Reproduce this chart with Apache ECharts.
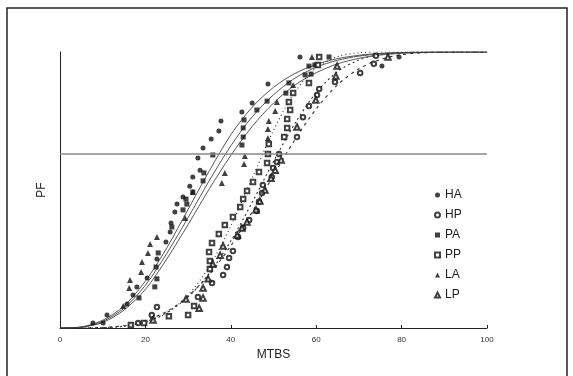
<!DOCTYPE html>
<html>
<head>
<meta charset="utf-8">
<script src="https://cdn.jsdelivr.net/npm/echarts@6/dist/echarts.min.js"></script>
<style>
  html, body { margin: 0; padding: 0; background: #fff; }
  #chart { width: 573px; height: 376px; }
</style>
</head>
<body>
<div id="chart"></div>
<script>
// x positions where the fitted curves were read
const curveX = [0, 5, 10, 15, 20, 25, 30, 35, 40, 45, 50, 55, 60, 65, 70, 75, 80, 85, 90, 95, 100];

// fitted curves
const haFit = [0, 0.004, 0.028, 0.08, 0.17, 0.29, 0.43, 0.57, 0.7, 0.8, 0.872, 0.922, 0.955, 0.976, 0.988, 0.995, 0.998, 1, 1, 1, 1];
const paFit = [0, 0.003, 0.024, 0.072, 0.155, 0.27, 0.4, 0.535, 0.66, 0.765, 0.845, 0.905, 0.945, 0.97, 0.985, 0.993, 0.997, 0.999, 1, 1, 1];
const laFit = [0, 0.003, 0.02, 0.065, 0.14, 0.25, 0.375, 0.505, 0.625, 0.73, 0.815, 0.88, 0.925, 0.957, 0.977, 0.989, 0.995, 0.998, 1, 1, 1];
const ppFit = [0, 0, 0.001, 0.006, 0.02, 0.054, 0.119, 0.224, 0.37, 0.543, 0.716, 0.855, 0.943, 0.983, 0.997, 1, 1, 1, 1, 1, 1];
const lpFit = [0, 0, 0.001, 0.007, 0.023, 0.056, 0.113, 0.199, 0.315, 0.455, 0.603, 0.741, 0.853, 0.929, 0.971, 0.991, 0.998, 1, 1, 1, 1];
const hpFit = [0, 0, 0.002, 0.009, 0.027, 0.06, 0.115, 0.194, 0.298, 0.42, 0.553, 0.682, 0.794, 0.881, 0.939, 0.973, 0.99, 0.997, 0.999, 1, 1];

// observed points [MTBS, PF]
const haPts = [[7.7,0.018],[10.1,0.018],[11.0,0.047],[15.7,0.087],[17.1,0.12],[18.0,0.149],[20.4,0.181],[22.7,0.25],[24.8,0.312],[25.8,0.348],[26.0,0.38],[26.9,0.42],[27.4,0.449],[28.8,0.475],[30.4,0.514],[31.1,0.547],[32.8,0.572],[32.3,0.616],[33.5,0.652],[35.4,0.685],[37.2,0.714],[37.7,0.75],[42.6,0.783],[45.0,0.815],[48.7,0.884],[56.2,0.982],[75.4,0.949],[79.4,0.982]];
const hpPts = [[18.3,0.018],[21.5,0.047],[22.7,0.076],[32.3,0.112],[35.6,0.163],[38.2,0.192],[39.1,0.221],[39.6,0.254],[40.5,0.279],[41.7,0.33],[42.9,0.362],[44.3,0.391],[46.1,0.424],[46.6,0.457],[47.3,0.489],[47.5,0.518],[49.6,0.547],[49.9,0.58],[50.8,0.601],[51.3,0.63],[55.5,0.692],[56.9,0.764],[58.3,0.804],[60.2,0.844],[60.7,0.866],[64.4,0.891],[70.3,0.924],[73.5,0.957],[74.0,0.986]];
const paPts = [[18.5,0.109],[22.2,0.149],[22.7,0.178],[22.5,0.221],[23.0,0.272],[26.2,0.366],[28.8,0.428],[29.7,0.449],[29.5,0.467],[31.1,0.493],[33.5,0.533],[33.7,0.562],[35.8,0.627],[42.6,0.663],[42.9,0.692],[42.9,0.725],[43.1,0.754],[46.1,0.79],[48.5,0.822],[52.9,0.851],[53.6,0.888],[57.4,0.917],[58.8,0.92],[58.3,0.949],[59.7,0.953],[63.0,0.982]];
const ppPts = [[16.6,0.011],[19.7,0.018],[25.5,0.043],[30.0,0.047],[31.4,0.08],[35.1,0.214],[35.1,0.243],[34.9,0.275],[35.6,0.308],[37.2,0.341],[38.6,0.373],[40.5,0.402],[42.2,0.438],[42.9,0.467],[43.8,0.496],[45.2,0.529],[46.6,0.565],[48.5,0.598],[48.7,0.63],[48.9,0.667],[52.5,0.692],[53.2,0.725],[53.2,0.757],[53.9,0.79],[53.6,0.819],[54.6,0.851],[58.3,0.888],[60.4,0.953],[60.7,0.982]];
const laPts = [[14.8,0.08],[16.2,0.145],[16.4,0.174],[19.0,0.203],[19.2,0.239],[20.6,0.272],[21.1,0.304],[22.7,0.33],[29.3,0.399],[31.1,0.493],[37.9,0.525],[38.6,0.562],[43.1,0.594],[43.3,0.623],[48.7,0.688],[48.7,0.721],[48.9,0.75],[50.4,0.786],[50.8,0.819],[54.6,0.88],[59.0,0.982]];
const lpPts = [[21.8,0.029],[29.5,0.105],[32.6,0.072],[33.5,0.109],[33.5,0.145],[34.7,0.178],[35.8,0.232],[37.5,0.264],[38.2,0.297],[41.5,0.337],[42.6,0.362],[43.8,0.384],[45.9,0.428],[46.8,0.46],[48.0,0.5],[49.4,0.543],[50.4,0.572],[51.8,0.609],[55.5,0.728],[59.9,0.826],[64.6,0.913],[64.9,0.949],[76.8,0.982]];

const xTicks = [0, 20, 40, 60, 80, 100];
const refLevel = 0.632;

const zip = (xs, ys) => xs.map((x, i) => [x, ys[i]]);

function fitLine(ys, type, width, color) {
  return {
    type: 'line',
    data: zip(curveX, ys),
    smooth: 0.3,
    symbol: 'none',
    silent: true,
    lineStyle: { color: color, width: width, type: type },
    z: 2
  };
}

function pts(name, data, symbol, size, bw) {
  return {
    name: name,
    type: 'scatter',
    data: data,
    symbol: symbol,
    symbolSize: size,
    itemStyle: { color: '#111', borderColor: '#111', borderWidth: bw },
    z: 3
  };
}

const chart = echarts.init(document.getElementById('chart'));
chart.setOption({
  animation: false,
  backgroundColor: '#fff',
  textStyle: { fontFamily: 'Liberation Sans, Arial, sans-serif' },
  grid: { left: 60, right: 86, top: 52, bottom: 48 },
  graphic: [{
    type: 'rect',
    shape: { x: 7, y: 8, width: 560, height: 390 },
    style: { fill: 'none', stroke: '#222', lineWidth: 1.5 },
    silent: true
  }],
  legend: {
    orient: 'vertical',
    left: 429,
    top: 184,
    itemWidth: 5,
    itemHeight: 5,
    itemGap: 8,
    data: ['HA', 'HP', 'PA', 'PP', 'LA', 'LP'],
    textStyle: { fontSize: 12, color: '#222', padding: [0, 0, 0, 0] }
  },
  xAxis: {
    type: 'value',
    min: 0,
    max: 100,
    interval: 20,
    name: 'MTBS',
    nameLocation: 'middle',
    nameGap: 20,
    nameTextStyle: { fontSize: 12, color: '#222' },
    axisLine: { lineStyle: { color: '#222', width: 1 } },
    axisTick: { show: true, inside: true, length: 3, lineStyle: { color: '#222' } },
    axisLabel: {
      fontSize: 8, color: '#333', margin: 8,
      formatter: v => xTicks.includes(v) ? String(v) : ''
    },
    splitLine: { show: false }
  },
  yAxis: {
    type: 'value',
    min: 0,
    max: 1,
    name: 'PF',
    nameLocation: 'middle',
    nameGap: 12,
    nameRotate: 90,
    nameTextStyle: { fontSize: 12, color: '#222' },
    axisLine: { show: true, lineStyle: { color: '#222', width: 1 } },
    axisTick: { show: false },
    axisLabel: { show: false },
    splitLine: { show: false }
  },
  series: [
    Object.assign(fitLine(haFit, 'solid', 0.9, '#444'), {
      markLine: {
        silent: true,
        symbol: ['none', 'none'],
        label: { show: false },
        lineStyle: { color: '#888', width: 1.5, type: 'solid' },
        data: [{ yAxis: refLevel }]
      }
    }),
    fitLine(paFit, 'solid', 0.9, '#444'),
    fitLine(laFit, 'solid', 0.9, '#444'),
    fitLine(ppFit, [1, 3], 1.1, '#333'),
    fitLine(lpFit, [2, 3], 1.1, '#333'),
    fitLine(hpFit, [3, 4], 1.1, '#333'),
    pts('HA', haPts, 'circle', 5, 0),
    pts('HP', hpPts, 'emptyCircle', 4.5, 0.6),
    pts('PA', paPts, 'rect', 5, 0),
    pts('PP', ppPts, 'emptyRect', 4.5, 0.6),
    pts('LA', laPts, 'triangle', 6, 0),
    pts('LP', lpPts, 'emptyTriangle', 5.5, 0.6)
  ]
});
</script>
</body>
</html>
